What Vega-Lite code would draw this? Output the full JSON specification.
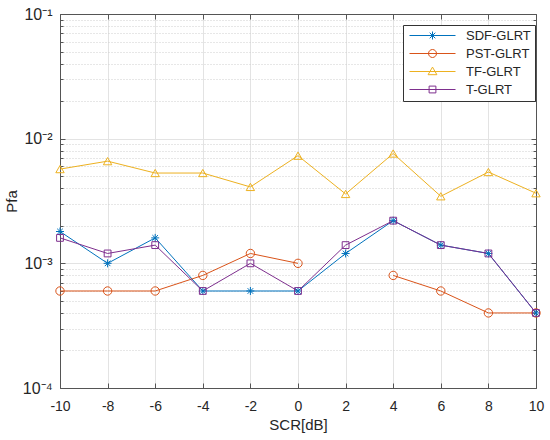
{
  "$schema": "https://vega.github.io/schema/vega-lite/v6.json",
  "autosize": "none",
  "width": 476,
  "height": 374,
  "padding": {"left": 60, "top": 14, "right": 14, "bottom": 52},
  "background": "white",
  "config": {
    "font": "Liberation Sans",
    "view": {"stroke": null},
    "axis": {
      "labelFont": "Liberation Sans",
      "titleFont": "Liberation Sans",
      "labelFontSize": 14,
      "titleFontSize": 15,
      "titleFontWeight": "normal",
      "labelColor": "#262626",
      "titleColor": "#262626",
      "labelFlush": false,
      "domainColor": "#555555",
      "tickColor": "#555555",
      "gridColor": "#e3e3e3",
      "gridWidth": 1
    }
  },
  "data": {
    "values": [
      {"scr": -10, "pfa": 0.0018, "series": "SDF-GLRT"},
      {"scr": -8, "pfa": 0.001, "series": "SDF-GLRT"},
      {"scr": -6, "pfa": 0.0016, "series": "SDF-GLRT"},
      {"scr": -4, "pfa": 0.0006, "series": "SDF-GLRT"},
      {"scr": -2, "pfa": 0.0006, "series": "SDF-GLRT"},
      {"scr": 0, "pfa": 0.0006, "series": "SDF-GLRT"},
      {"scr": 2, "pfa": 0.0012, "series": "SDF-GLRT"},
      {"scr": 4, "pfa": 0.0022, "series": "SDF-GLRT"},
      {"scr": 6, "pfa": 0.0014, "series": "SDF-GLRT"},
      {"scr": 8, "pfa": 0.0012, "series": "SDF-GLRT"},
      {"scr": 10, "pfa": 0.0004, "series": "SDF-GLRT"},
      {"scr": -10, "pfa": 0.0006, "series": "PST-GLRT"},
      {"scr": -8, "pfa": 0.0006, "series": "PST-GLRT"},
      {"scr": -6, "pfa": 0.0006, "series": "PST-GLRT"},
      {"scr": -4, "pfa": 0.0008, "series": "PST-GLRT"},
      {"scr": -2, "pfa": 0.0012, "series": "PST-GLRT"},
      {"scr": 0, "pfa": 0.001, "series": "PST-GLRT"},
      {"scr": 2, "pfa": null, "series": "PST-GLRT"},
      {"scr": 4, "pfa": 0.0008, "series": "PST-GLRT"},
      {"scr": 6, "pfa": 0.0006, "series": "PST-GLRT"},
      {"scr": 8, "pfa": 0.0004, "series": "PST-GLRT"},
      {"scr": 10, "pfa": 0.0004, "series": "PST-GLRT"},
      {"scr": -10, "pfa": 0.0057, "series": "TF-GLRT"},
      {"scr": -8, "pfa": 0.0066, "series": "TF-GLRT"},
      {"scr": -6, "pfa": 0.0053, "series": "TF-GLRT"},
      {"scr": -4, "pfa": 0.0053, "series": "TF-GLRT"},
      {"scr": -2, "pfa": 0.0041, "series": "TF-GLRT"},
      {"scr": 0, "pfa": 0.0073, "series": "TF-GLRT"},
      {"scr": 2, "pfa": 0.0036, "series": "TF-GLRT"},
      {"scr": 4, "pfa": 0.0076, "series": "TF-GLRT"},
      {"scr": 6, "pfa": 0.00345, "series": "TF-GLRT"},
      {"scr": 8, "pfa": 0.0054, "series": "TF-GLRT"},
      {"scr": 10, "pfa": 0.00365, "series": "TF-GLRT"},
      {"scr": -10, "pfa": 0.0016, "series": "T-GLRT"},
      {"scr": -8, "pfa": 0.0012, "series": "T-GLRT"},
      {"scr": -6, "pfa": 0.0014, "series": "T-GLRT"},
      {"scr": -4, "pfa": 0.0006, "series": "T-GLRT"},
      {"scr": -2, "pfa": 0.001, "series": "T-GLRT"},
      {"scr": 0, "pfa": 0.0006, "series": "T-GLRT"},
      {"scr": 2, "pfa": 0.0014, "series": "T-GLRT"},
      {"scr": 4, "pfa": 0.0022, "series": "T-GLRT"},
      {"scr": 6, "pfa": 0.0014, "series": "T-GLRT"},
      {"scr": 8, "pfa": 0.0012, "series": "T-GLRT"},
      {"scr": 10, "pfa": 0.0004, "series": "T-GLRT"}
    ]
  },
  "resolve": {"axis": {"x": "independent", "y": "independent"}},
  "layer": [
    {
      "mark": {"type": "point", "opacity": 0},
      "encoding": {
        "x": {"field": "scr", "type": "quantitative", "axis": null},
        "y": {
          "field": "pfa",
          "type": "quantitative",
          "axis": {
            "orient": "left",
            "values": [0.0002, 0.0003, 0.0004, 0.0005, 0.0006, 0.0007, 0.0008, 0.0009, 0.002, 0.003, 0.004, 0.005, 0.006, 0.007, 0.008, 0.009, 0.02, 0.03, 0.04, 0.05, 0.06, 0.07, 0.08, 0.09],
            "labels": false,
            "domain": false,
            "tickSize": -3,
            "grid": true,
            "gridDash": [1, 2],
            "gridColor": "#cfcfcf",
            "title": null
          }
        }
      }
    },
    {
      "mark": {"type": "point", "opacity": 0},
      "encoding": {
        "x": {"field": "scr", "type": "quantitative", "axis": null},
        "y": {
          "field": "pfa",
          "type": "quantitative",
          "axis": {
            "orient": "right",
            "values": [0.0002, 0.0003, 0.0004, 0.0005, 0.0006, 0.0007, 0.0008, 0.0009, 0.002, 0.003, 0.004, 0.005, 0.006, 0.007, 0.008, 0.009, 0.02, 0.03, 0.04, 0.05, 0.06, 0.07, 0.08, 0.09],
            "labels": false,
            "domain": false,
            "tickSize": -3,
            "grid": false,
            "title": null
          }
        }
      }
    },
    {
      "mark": {"type": "line", "strokeWidth": 1, "invalid": "break-paths-show-domains"},
      "encoding": {
        "x": {
          "field": "scr",
          "type": "quantitative",
          "scale": {"domain": [-10, 10], "nice": false, "zero": false},
          "axis": {
            "orient": "bottom",
            "values": [-10, -8, -6, -4, -2, 0, 2, 4, 6, 8, 10],
            "labelExpr": "'' + datum.value",
            "tickSize": -5,
            "labelPadding": 16,
            "grid": true,
            "title": "SCR[dB]",
            "titlePadding": 4
          }
        },
        "y": {
          "field": "pfa",
          "type": "quantitative",
          "scale": {"type": "log", "domain": [0.0001, 0.1], "nice": false},
          "axis": {
            "orient": "left",
            "values": [0.0001, 0.001, 0.01, 0.1],
            "labelExpr": "'10' + (datum.value > 0.05 ? '⁻¹' : datum.value > 0.005 ? '⁻²' : datum.value > 0.0005 ? '⁻³' : '⁻⁴')",
            "labelFontSize": 16,
            "tickSize": -5,
            "labelPadding": 13,
            "grid": true,
            "title": "Pfa",
            "titlePadding": 3
          }
        },
        "color": {
          "field": "series",
          "type": "nominal",
          "scale": {
            "domain": ["SDF-GLRT", "PST-GLRT", "TF-GLRT", "T-GLRT"],
            "range": ["#0072BD", "#D95319", "#EDB120", "#7E2F8E"]
          }
        }
      }
    },
    {
      "data": {"values": []},
      "mark": {"type": "point", "filled": false, "opacity": 1, "strokeWidth": 1, "size": 64},
      "encoding": {
        "x": {"field": "scr", "type": "quantitative", "axis": null},
        "y": {"field": "pfa", "type": "quantitative", "axis": null},
        "color": {
          "field": "series",
          "type": "nominal",
          "legend": {
            "title": null,
            "orient": "none",
            "legendX": 343,
            "legendY": 11,
            "direction": "vertical",
            "fillColor": "white",
            "strokeColor": "#333333",
            "padding": 4,
            "labelFont": "Liberation Sans",
            "labelFontSize": 13,
            "labelColor": "#262626",
            "symbolSize": 64,
            "symbolStrokeWidth": 1,
            "symbolFillColor": "transparent",
            "symbolOffset": 19,
            "labelOffset": 27,
            "rowPadding": 4
          }
        },
        "shape": {
          "field": "series",
          "type": "nominal",
          "scale": {
            "domain": ["SDF-GLRT", "PST-GLRT", "TF-GLRT", "T-GLRT"],
            "range": [
              "M-5.75,0L5.75,0M0,-1L0,1M-1,0L1,0M-0.7,-0.7L0.7,0.7M-0.7,0.7L0.7,-0.7",
              "M-5.75,0L5.75,0M1,0A1,1 0 1,1 -1,0A1,1 0 1,1 1,0",
              "M-5.75,0L5.75,0M0,-1.1L1.1,0.8L-1.1,0.8Z",
              "M-5.75,0L5.75,0M-0.85,-0.85L0.85,-0.85L0.85,0.85L-0.85,0.85Z"
            ]
          }
        }
      }
    },
    {
      "transform": [{"filter": "datum.series === 'SDF-GLRT'"}],
      "mark": {"type": "point", "filled": false, "opacity": 1, "strokeWidth": 1, "size": 64, "shape": "M0,-1L0,1M-1,0L1,0M-0.7,-0.7L0.7,0.7M-0.7,0.7L0.7,-0.7"},
      "encoding": {
        "x": {
          "field": "scr",
          "type": "quantitative",
          "axis": {
            "orient": "top",
            "values": [-10, -8, -6, -4, -2, 0, 2, 4, 6, 8, 10],
            "labels": false,
            "tickSize": -5,
            "grid": false,
            "title": null
          }
        },
        "y": {
          "field": "pfa",
          "type": "quantitative",
          "axis": {
            "orient": "right",
            "values": [0.0001, 0.001, 0.01, 0.1],
            "labels": false,
            "tickSize": -5,
            "grid": false,
            "title": null
          }
        },
        "color": {"field": "series", "type": "nominal"}
      }
    },
    {
      "transform": [{"filter": "datum.series === 'PST-GLRT'"}],
      "mark": {"type": "point", "filled": false, "opacity": 1, "strokeWidth": 1, "size": 70, "shape": "circle"},
      "encoding": {
        "x": {"field": "scr", "type": "quantitative", "axis": null},
        "y": {"field": "pfa", "type": "quantitative", "axis": null},
        "color": {"field": "series", "type": "nominal"}
      }
    },
    {
      "transform": [{"filter": "datum.series === 'TF-GLRT'"}],
      "mark": {"type": "point", "filled": false, "opacity": 1, "strokeWidth": 1, "size": 70, "shape": "triangle-up"},
      "encoding": {
        "x": {"field": "scr", "type": "quantitative", "axis": null},
        "y": {"field": "pfa", "type": "quantitative", "axis": null},
        "color": {"field": "series", "type": "nominal"}
      }
    },
    {
      "transform": [{"filter": "datum.series === 'T-GLRT'"}],
      "mark": {"type": "point", "filled": false, "opacity": 1, "strokeWidth": 1, "size": 64, "shape": "M-0.85,-0.85L0.85,-0.85L0.85,0.85L-0.85,0.85Z"},
      "encoding": {
        "x": {"field": "scr", "type": "quantitative", "axis": null},
        "y": {"field": "pfa", "type": "quantitative", "axis": null},
        "color": {"field": "series", "type": "nominal"}
      }
    }
  ]
}
